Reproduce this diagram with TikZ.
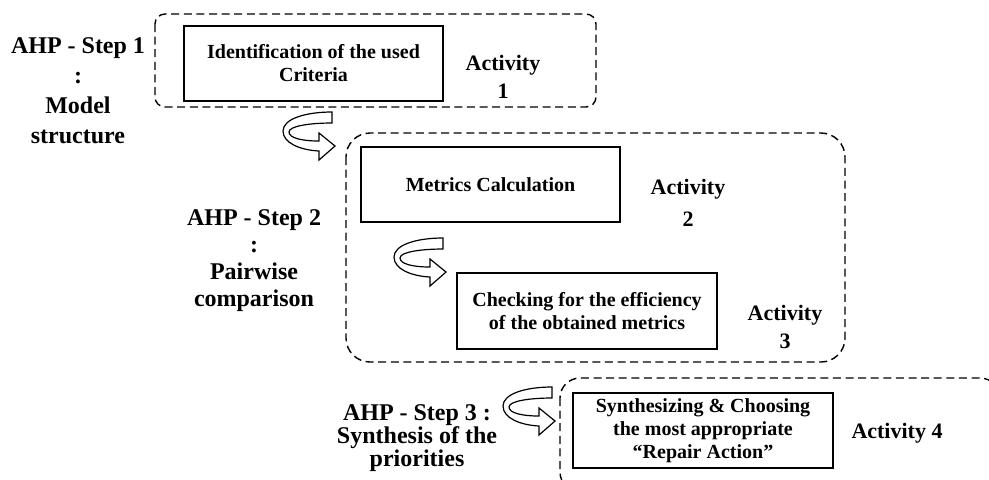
\documentclass[tikz,border=0pt]{standalone}
\usepackage{fontspec}
\setmainfont{Liberation Serif}

\begin{document}
\begin{tikzpicture}[x=0.5pt,y=-0.5pt,
		stepbox/.style={draw,line width=0.9pt,inner sep=0pt,minimum width=129.5pt,minimum height=37.5pt,align=center,font=\fontsize{10}{11.5}\selectfont\bfseries},
		activity/.style={align=center,inner sep=0pt,font=\fontsize{11}{14}\selectfont\bfseries},
		ahplabel/.style={align=center,inner sep=0pt,font=\fontsize{12}{#1}\selectfont\bfseries},
		group/.style={draw,dash pattern=on 4pt off 2.3pt,line width=0.7pt},
		curlarrow/.pic={
			\draw[line width=0.6pt,fill=white] (0,0) .. controls (-27,0) and (-49,7) .. (-49,19)
			.. controls (-49,31) and (-32,38) .. (-13,39) -- (-13,48) -- (3,34) -- (-13,21) -- (-13,29)
			.. controls (-30,29) and (-43,26) .. (-43,20) .. controls (-43,14) and (-22,11) .. (0,11) -- cycle;
		}]
		% picture size in pixels of the reference
		\useasboundingbox (0,0) rectangle (989,479);
		
		% dashed groups of activities
		\draw[group,rounded corners=5pt] (155,14) rectangle (596,107);
		\draw[group,rounded corners=12pt] (346,133) rectangle (845,362);
		\draw[group,rounded corners=10pt] (560,378) rectangle (1000,492);
		
		% AHP steps on the left
		\node[ahplabel=15] (ahp1) at (78,91) {AHP - Step 1\\:\\Model\\structure};
		\node[ahplabel=13.5] (ahp2) at (254,261) {AHP - Step 2\\:\\Pairwise\\comparison};
		\node[ahplabel=11.5] (ahp3) at (417,438) {AHP - Step 3 :\\Synthesis of the\\priorities};
		
		% activity boxes
		\node[stepbox] (crit) at (313.5,63.5) {Identification of the used\\Criteria};
		\node[stepbox] (metric) at (490.5,184.5) {Metrics Calculation};
		\node[stepbox,minimum width=130pt,minimum height=38pt] (check) at (587,311) {Checking for the efficiency\\of the obtained metrics};
		\node[stepbox,minimum width=130pt] (synth) at (703,430.5) {Synthesizing \& Choosing\\the most appropriate\\``Repair Action''};
		
		% activity numbers
		\node[activity] (act1) at (503,77) {Activity\\1};
		\node[activity,font=\fontsize{11}{16}\selectfont\bfseries] (act2) at (688,203) {Activity\\2};
		\node[activity] (act3) at (785,327) {Activity\\3};
		\node[activity] (act4) at (897,433) {Activity 4};
		
		% curled arrows between the activities
		\pic at (332,112) {curlarrow};
		\pic at (443,238) {curlarrow};
		\pic at (552,387) {curlarrow};
		
	\end{tikzpicture}
\end{document}
